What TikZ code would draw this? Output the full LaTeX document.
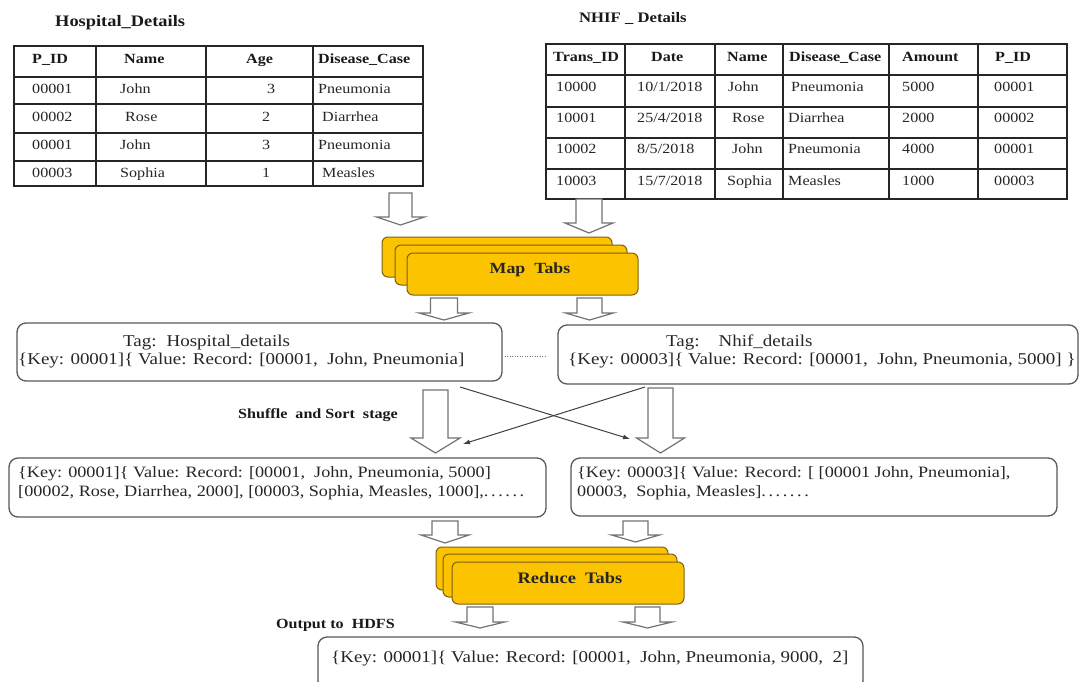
\documentclass[tikz,border=0pt]{standalone}
\usepackage{fontspec}
\setmainfont{Liberation Serif}[FakeStretch=1.15]
\usetikzlibrary{arrows.meta}
\definecolor{tabfill}{RGB}{252,196,0}
\definecolor{tabedge}{RGB}{125,95,15}
% hollow block arrow: centre x, top y, head-base y, tip y, shaft half-width, head half-width
\newcommand{\blockarrow}[6]{%
  \draw[blk] (#1-#5,#2) -- (#1+#5,#2) -- (#1+#5,#3) -- (#1+#6,#3) -- (#1,#4)
    -- (#1-#6,#3) -- (#1-#5,#3) -- cycle;}
% loosely spaced trailing dots
\newcommand{\loosedots}[1]{\foreach \k in {1,...,#1}{.\hspace{2.6pt}}}
\begin{document}
\begin{tikzpicture}[x=1pt,y=-1pt,
  tabline/.style={line width=1.6pt, draw=black!85, line cap=rect},
  cell/.style={anchor=base west, inner sep=0pt, font=\fontsize{14}{16}\selectfont, text=black!85},
  hcell/.style={anchor=base west, inner sep=0pt, font=\fontsize{14}{16}\selectfont\bfseries, text=black!90},
  title/.style={anchor=base west, inner sep=0pt, font=\fontsize{16}{18}\selectfont\bfseries, text=black!90},
  roundbox/.style={draw=black!65, line width=1.3pt, rounded corners=9pt, fill=white, inner sep=0pt},
  btxt/.style={anchor=base west, inner sep=0pt, font=\fontsize{16.5}{18}\selectfont, text=black!85},
  rtxt/.style={anchor=base west, inner sep=0pt, font=\fontsize{15.8}{18}\selectfont, text=black!85},
  tab/.style={draw=tabedge, fill=tabfill, line width=1pt, rounded corners=6pt},
  tabtxt/.style={inner sep=0pt, font=\fontsize{15.5}{18}\selectfont\bfseries, text=black!85},
  blk/.style={draw=black!55, fill=white, line width=1.2pt, line join=miter},
  cross/.style={draw=black!75, line width=1pt, -{Latex[length=7pt,width=5pt]}},
  dots/.style={draw=black!55, line width=0.9pt, dash pattern=on 1pt off 1.5pt},
  lbl/.style={anchor=base west, inner sep=0pt, font=\fontsize{14}{16}\selectfont\bfseries, text=black!90}
]
\useasboundingbox (0,0) rectangle (1080,681);
\fill[white] (0,0) rectangle (1080,681);

% ---------- Hospital_Details table ----------
\node[title] (htitle) at (55,26) {Hospital\_Details};
\foreach \x in {14,96,206,313,423} \draw[tabline] (\x,46) -- (\x,186);
\foreach \y in {46,77,104,133,161,186} \draw[tabline] (14,\y) -- (423,\y);
\node[hcell] at (32,63.6) {P\_ID};
\node[hcell] at (124,63.6) {Name};
\node[hcell] at (246,63.6) {Age};
\node[hcell] at (318,63.6) {Disease\_Case};
\foreach \y/\a/\b/\bx/\c/\cx/\d/\dx in {
   93.6/00001/John/120/3/267/Pneumonia/318,
  121.6/00002/Rose/125/2/262/Diarrhea/322,
  149.6/00001/John/120/3/262/Pneumonia/318,
  177.6/00003/Sophia/120/1/262/Measles/322}{
  \node[cell] at (32,\y) {\a};
  \node[cell] at (\bx,\y) {\b};
  \node[cell] at (\cx,\y) {\c};
  \node[cell] at (\dx,\y) {\d};
}

% ---------- NHIF_Details table ----------
\node[title, font=\fontsize{14.5}{17}\selectfont\bfseries] (ntitle) at (579,22) {NHIF \_ Details};
\foreach \x in {546,625,715,783,889,978,1067} \draw[tabline] (\x,44) -- (\x,199);
\foreach \y in {44,75,107,138,169,199} \draw[tabline] (546,\y) -- (1067,\y);
\node[hcell] at (553,61.6) {Trans\_ID};
\node[hcell] at (651,61.6) {Date};
\node[hcell] at (727,61.6) {Name};
\node[hcell] at (789,61.6) {Disease\_Case};
\node[hcell] at (902,61.6) {Amount};
\node[hcell] at (995,61.6) {P\_ID};
\node[cell] at (637,91.6) {10/1/2018};
\node[cell] at (637,122.6) {25/4/2018};
\node[cell] at (637,153.6) {8/5/2018};
\node[cell] at (637,185.6) {15/7/2018};
\foreach \y/\a/\c/\cx/\d/\dx/\e/\f in {
   91.6/10000/John/728/Pneumonia/791/5000/00001,
  122.6/10001/Rose/732/Diarrhea/788/2000/00002,
  153.6/10002/John/732/Pneumonia/788/4000/00001,
  185.6/10003/Sophia/727/Measles/788/1000/00003}{
  \node[cell] at (556,\y) {\a};
  \node[cell] at (\cx,\y) {\c};
  \node[cell] at (\dx,\y) {\d};
  \node[cell] at (902,\y) {\e};
  \node[cell] at (994,\y) {\f};
}

% ---------- Map stage ----------
\blockarrow{400.5}{193}{217}{225}{11.5}{24}
\blockarrow{589}{199}{223}{233}{13}{24}
\draw[tab] (382,237) rectangle (612,277);
\draw[tab] (395,245) rectangle (627,285);
\node[tab, minimum width=231pt, minimum height=42pt, inner sep=0pt] (map) at (522.5,274) {};
\node[tabtxt] (maptxt) at (530,270) {Map\ \ Tabs};
\blockarrow{444}{298}{313}{320}{13.5}{25}
\blockarrow{589.5}{298}{313}{320}{12.5}{24}

% ---------- tagged records ----------
\node[roundbox, minimum width=485pt, minimum height=58pt] (hosp) at (259.5,352) {};
\node[btxt] at (123,346.5) {Tag:\hspace{10pt}Hospital\_details};
\node[btxt] at (18,364.5) {\{Key: 00001]\{ Value: Record: [00001,\ \ John, Pneumonia]};
\node[roundbox, minimum width=520pt, minimum height=59pt] (nhif) at (818,354.5) {};
\node[btxt] at (666,346.5) {Tag:\hspace{19pt}Nhif\_details};
\node[btxt] at (568,364.5) {\{Key: 00003]\{ Value: Record: [00001,\ \ John, Pneumonia, 5000] \}};
\draw[dots] (hosp.east) ++(2,4) -- ++(41,0);

% ---------- shuffle and sort ----------
\node[lbl] (shuf) at (238,418) {Shuffle\ \ and Sort\ \ stage};
\blockarrow{435.5}{390}{438}{453}{12.5}{24.5}
\blockarrow{660.5}{388}{438}{453}{12.5}{24}
\coordinate (c1s) at (460,387);
\coordinate (c1e) at (630,439);
\coordinate (c2s) at (645,387);
\coordinate (c2e) at (463,444);
\draw[cross] (c1s) -- (c1e);
\draw[cross] (c2s) -- (c2e);

\node[roundbox, minimum width=537pt, minimum height=59pt] (resL) at (277.5,487.5) {};
\node[rtxt] at (18,477.5) {\{Key: 00001]\{ Value: Record: [00001,\ \ John, Pneumonia, 5000]};
\node[rtxt] at (18,496.5) {[00002, Rose, Diarrhea, 2000], [00003, Sophia, Measles, 1000],\loosedots{6}};
\node[roundbox, minimum width=486pt, minimum height=58pt] (resR) at (814,487) {};
\node[rtxt] at (577,477.5) {\{Key: 00003]\{ Value: Record: [ [00001 John, Pneumonia],};
\node[rtxt] at (577,496.5) {00003,\ \ Sophia, Measles]\loosedots{7}};

% ---------- reduce stage ----------
\blockarrow{445}{521}{535}{543}{13}{24}
\blockarrow{635.5}{521}{535}{542}{12.5}{24}
\draw[tab] (436,547) rectangle (668,590);
\draw[tab] (443,554) rectangle (677,597);
\node[tab, minimum width=232pt, minimum height=42pt, inner sep=0pt] (reduce) at (568,583) {};
\node[tabtxt, font=\fontsize{16}{18}\selectfont\bfseries] (redtxt) at (570,578) {Reduce\ \ Tabs};
\blockarrow{480}{607}{622}{628}{13}{24.5}
\blockarrow{647.5}{607}{622}{628}{12.5}{24.5}

% ---------- output ----------
\node[lbl] (outlbl) at (276,628) {Output to\ \ HDFS};
\node[roundbox, minimum width=545pt, minimum height=53pt] (out) at (590.5,663.5) {};
\node[btxt] at (331,662.5) {\{Key: 00001]\{ Value: Record: [00001,\ \ John, Pneumonia, 9000,\ \ 2]};
\end{tikzpicture}
\end{document}
